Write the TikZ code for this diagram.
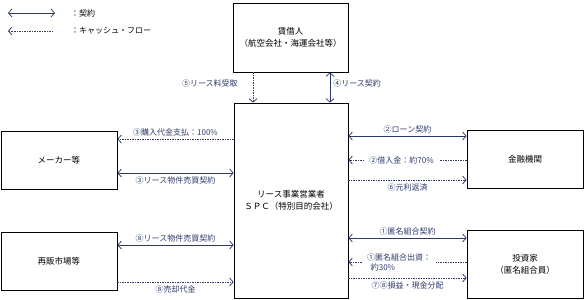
\documentclass[tikz,border=0pt]{standalone}
\usepackage{fontspec}
\setmainfont{Noto Sans CJK JP}
\usetikzlibrary{arrows.meta}
\definecolor{arrowblue}{RGB}{45,58,105}
\tikzset{
  party/.style={draw, line width=0.8pt, align=center, inner sep=0pt, font=\fontsize{8.5}{12}\selectfont},
  contract/.style={{Straight Barb[length=3.5pt,width=8pt]}-{Straight Barb[length=3.5pt,width=8pt]}, arrowblue, line width=0.75pt},
  cash/.style={-{Straight Barb[length=3.5pt,width=8pt]}, arrowblue, dashed, dash pattern=on 1.5pt off 1pt, line width=0.75pt},
  lbl/.style={font=\fontsize{8}{10}\selectfont, inner sep=1pt}
}
\begin{document}
\begin{tikzpicture}[x=1pt,y=-1pt]
    \useasboundingbox (0,0) rectangle (584,300);
    % legend
    \coordinate (lga) at (8,13);
    \coordinate (lgb) at (55,13);
    \coordinate (lgc) at (8,31);
    \coordinate (lgd) at (53,31);
    \draw[contract] (lga) -- (lgb);
    \draw[cash] (lgd) -- (lgc);
    \node[lbl, anchor=west] (lgt1) at (70,13) {：契約};
    \node[lbl, anchor=west] (lgt2) at (70,31) {：キャッシュ・フロー};
    % parties
    \node[party, minimum width=115pt, minimum height=69pt] (lessee) at (290.5,37.5) {賃借人\\（航空会社・海運会社等）};
    \node[party, minimum width=114pt, minimum height=195pt] (spc) at (291,200.5) {リース事業営業者\\ＳＰＣ（特別目的会社）};
    \node[party, minimum width=116pt, minimum height=58pt] (maker) at (59,160) {メーカー等};
    \node[party, minimum width=116pt, minimum height=58pt] (resale) at (59,261) {再販市場等};
    \node[party, minimum width=116pt, minimum height=58pt] (bank) at (525,159) {金融機関};
    \node[party, minimum width=116pt, minimum height=68pt] (investor) at (525,264) {投資家\\（匿名組合員）};
    % lessee - SPC
    \draw[cash] ([xshift=-37.5pt]lessee.south) -- ([xshift=-37.5pt]lessee.south |- spc.north) node[lbl, pos=0.35, left=14pt]{⑤リース料受取};
    \draw[contract] ([xshift=39.5pt]lessee.south) -- ([xshift=39.5pt]lessee.south |- spc.north) node[lbl, pos=0.35, right=2pt]{④リース契約};
    % maker
    \draw[cash] ([yshift=21pt]maker.east -| spc.west) -- ([yshift=21pt]maker.east) node[lbl, midway, above=1pt]{③購入代金支払：100\%};
    \draw[contract] ([yshift=-13pt]maker.east) -- ([yshift=-13pt]maker.east -| spc.west) node[lbl, midway, below=2pt]{③リース物件売買契約};
    % resale market
    \draw[contract] ([yshift=16pt]resale.east) -- ([yshift=16pt]resale.east -| spc.west) node[lbl, midway, above=1pt]{⑧リース物件売買契約};
    \draw[cash] ([yshift=-21pt]resale.east) -- ([yshift=-21pt]resale.east -| spc.west) node[lbl, midway, below=2pt]{⑧売却代金};
    % bank
    \draw[contract] ([yshift=23pt]bank.west -| spc.east) -- ([yshift=23pt]bank.west) node[lbl, midway, above=1pt]{②ローン契約};
    \draw[cash] ([yshift=-1pt]bank.west) -- ([yshift=-1pt]bank.west -| spc.east) node[lbl, pos=0.55, fill=white, inner xsep=5pt]{②借入金：約70\%};
    \draw[cash] ([yshift=-21pt]bank.west -| spc.east) -- ([yshift=-21pt]bank.west) node[lbl, midway, below=2pt]{⑥元利返済};
    % investor
    \draw[contract] ([yshift=26pt]investor.west -| spc.east) -- ([yshift=26pt]investor.west) node[lbl, midway, above=1pt]{①匿名組合契約};
    \draw[cash] ([yshift=2pt]investor.west) -- ([yshift=2pt]investor.west -| spc.east) node[lbl, pos=0.57, fill=white, inner xsep=5pt, align=left]{①匿名組合出資：\\\ \ 約30\%};
    \draw[cash] ([yshift=-14pt]investor.west -| spc.east) -- ([yshift=-14pt]investor.west) node[lbl, midway, below=2pt]{⑦⑧損益・現金分配};
\end{tikzpicture}
\end{document}
